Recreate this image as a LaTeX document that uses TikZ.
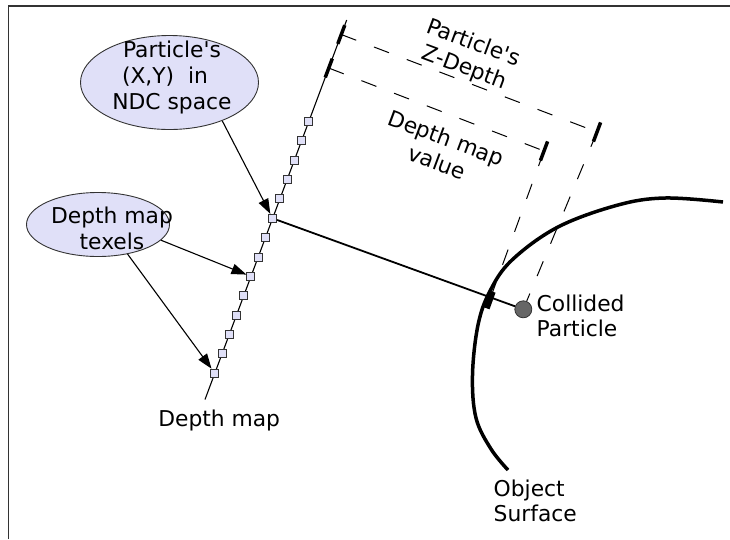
\documentclass[tikz,border=0pt]{standalone}
\usepackage{fontspec}
\setmainfont{DejaVu Sans}[Ligatures=TeXOff]
\usetikzlibrary{calc,arrows.meta,shapes.geometric}
\definecolor{lav}{HTML}{E0E0F8}
\definecolor{frm}{HTML}{333333}
\definecolor{pgray}{HTML}{666666}
\begin{document}
\begin{tikzpicture}[x=1pt,y=-1pt,
  txt/.style={font=\fontsize{21.8}{26}\selectfont, inner sep=0pt, align=center},
  ltxt/.style={font=\fontsize{21.8}{25}\selectfont, inner sep=0pt, align=left},
  bubble/.style={ellipse, draw=frm, line width=0.9pt, fill=lav, inner sep=0pt},
  texel/.style={rectangle, draw=frm, fill=lav, line width=1pt, minimum size=8pt, inner sep=0pt},
  arr/.style={line width=1.1pt, -{Triangle[length=15pt,width=10.5pt]}},
  dsh/.style={line width=1pt, dash pattern=on 16pt off 19pt},
  tickmark/.style={line width=3.5pt},
  thinline/.style={line width=1.1pt},
  framelines/.style={line width=1.5pt, draw=frm}]
\useasboundingbox (0,0) rectangle (730,539);
% frame
\draw[framelines] (8.3,539) -- (8.3,6) -- (730,6);

% depth map line
\coordinate (B) at (205,399.5);
\coordinate (T) at (346.7,20);
\draw[thinline] (B) -- (T);

% reference points
\coordinate (z1) at ($(B)!0.9617!(T)$);
\coordinate (z2) at ($(B)!0.8734!(T)$);
\coordinate (zr1) at (597,132);
\coordinate (zr2) at (544,151);
\coordinate (hit) at (489.7,300);

% collided particle
\node[circle, fill=pgray, draw=frm, line width=0.8pt, minimum size=17pt, inner sep=0pt] (part) at (523.3,309.3) {};

% dashed measuring lines
\draw[dsh] (z1) -- (zr1);
\draw[dsh] (z2) -- (zr2);
\draw[dsh] (zr1) -- (part);
\draw[dsh] (zr2) -- (hit);

% ticks
\draw[tickmark] ($(B)!0.9371!(T)$) -- ($(B)!0.9864!(T)$);
\draw[tickmark] ($(B)!0.8488!(T)$) -- ($(B)!0.8981!(T)$);
\draw[tickmark] ($(zr1)+(3.6,-9.6)$) -- ($(zr1)+(-3.6,9.6)$);
\draw[tickmark] ($(zr2)+(3.6,-9.6)$) -- ($(zr2)+(-3.6,9.6)$);

% object surface
\draw[line width=3.5pt] plot[smooth, tension=0.6] coordinates {(723,202) (665,198) (618,205) (558,227) (512,260) (490,291) (478,325) (472.5,375) (476,418) (491,449) (508,470)};
\draw[line width=6pt] (492.7,291.7) -- (486.7,308.3);

% texels
\foreach \i in {0,...,13}{
  \pgfmathsetmacro\f{(28.1+20.66*\i)/405.1}
  \node[texel] (s\i) at ($(B)!\f!(T)$) {};
}

% line from particle's texel to collided particle
\draw[line width=1.8pt] (s8) -- (part);

% ellipses
\node[bubble, minimum width=178pt, minimum height=94pt] (ndc) at (169.5,82.5) {};
\node[bubble, minimum width=143pt, minimum height=64pt] (texels) at (98,224.5) {};
\node[txt] (ndct) at (172,77) {Particle's\\(X,Y)\ \ in\kern14pt\\NDC space};
\node[txt] (texelst) at (112,228.5) {Depth map\\texels};

% arrows
\draw[arr] (ndc.-36) -- (s8);
\draw[arr] (texels.-14) -- (s5);
\draw[arr] (texels.-45) -- (s0);

% labels
\node[txt, rotate=-20.5] (zdepth) at (468.7,56) {Particle's\\Z-Depth};
\node[txt, rotate=-20.5] (dmval) at (441.7,150) {Depth map\\value};
\node[ltxt, anchor=west] (coll) at (536.5,315.5) {Collided\\Particle};
\node[ltxt, anchor=west] (objs) at (493.5,500.5) {Object\\Surface};
\node[txt, anchor=base] (dmap) at (219.2,426) {Depth map};
\end{tikzpicture}
\end{document}
